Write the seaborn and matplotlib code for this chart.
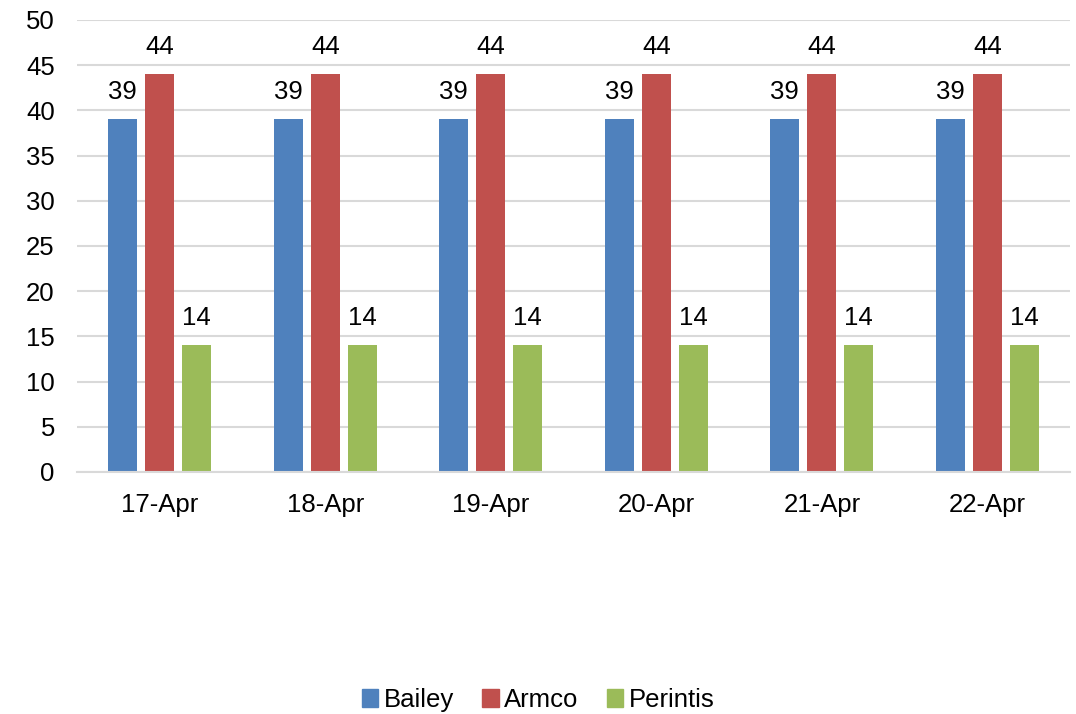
import pandas as pd
import seaborn as sns
import matplotlib.pyplot as plt

dates = ['17-Apr', '18-Apr', '19-Apr', '20-Apr', '21-Apr', '22-Apr']
bailey = [39, 39, 39, 39, 39, 39]
armco = [44, 44, 44, 44, 44, 44]
perintis = [14, 14, 14, 14, 14, 14]
series = ['Bailey', 'Armco', 'Perintis']
colors = ['#4f81bd', '#c0504d', '#9bbb59']

df = pd.DataFrame({'Date': dates * 3,
                   'Value': bailey + armco + perintis,
                   'Series': [s for s in series for _ in dates]})

sns.set_style('white')
plt.rcParams['font.family'] = ['Liberation Sans', 'DejaVu Sans']
plt.rcParams['text.color'] = 'black'
plt.rcParams['xtick.color'] = 'black'
plt.rcParams['ytick.color'] = 'black'

fs = 18.5

fig = plt.figure(figsize=(10.76, 7.14), dpi=100)
ax = fig.add_axes([0.0716, 0.339, 0.9229, 0.633])

sns.barplot(data=df, x='Date', y='Value', hue='Series', palette=colors,
            width=0.67, saturation=1, linewidth=0, ax=ax, legend=False)

# narrow bars a bit so there is a gap between them
shrink = 0.048
for p in ax.patches:
    w = p.get_width()
    p.set_x(p.get_x() + shrink / 2)
    p.set_width(w - shrink)

for c in ax.containers:
    ax.bar_label(c, padding=11, fontsize=fs, color='black')

ax.set_ylim(0, 50)
ax.set_yticks(range(0, 51, 5))
ax.set_xlim(-0.5, len(dates) - 0.5)
ax.yaxis.grid(True, color='#d9d9d9', linewidth=1.5)
ax.set_axisbelow(True)
for s in ['top', 'right', 'left']:
    ax.spines[s].set_visible(False)
ax.spines['bottom'].set_color('#d9d9d9')
ax.spines['bottom'].set_linewidth(1.5)
ax.tick_params(axis='y', length=0, pad=16, labelsize=fs, labelcolor='black')
ax.tick_params(axis='x', length=0, pad=15, labelsize=fs, labelcolor='black')
ax.set_xlabel('')
ax.set_ylabel('')

handles = [plt.Rectangle((0, 0), 1, 1, color=c) for c in colors]
fig.legend(handles, series, loc='center', bbox_to_anchor=(0.5, 0.0196), ncol=3,
           frameon=False, fontsize=fs, handlelength=0.65, handleheight=0.65,
           handletextpad=0.2, columnspacing=1.1)

fig.savefig('out.png', dpi=100)
